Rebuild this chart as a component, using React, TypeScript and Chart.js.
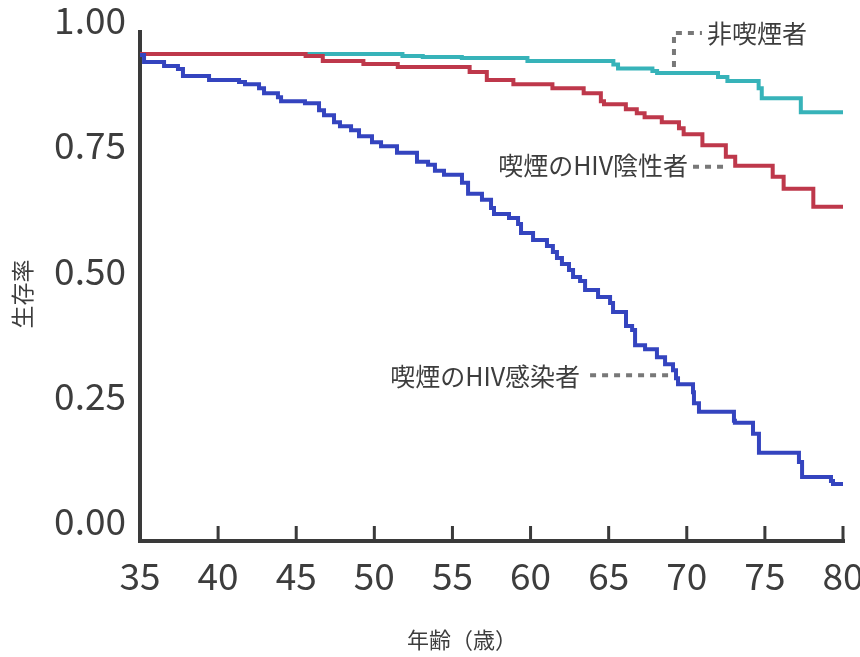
import React, { useEffect, useRef } from "react";
import { Chart, registerables } from "chart.js";

Chart.register(...registerables);

// ---- data ----
const ageTicks = [35, 40, 45, 50, 55, 60, 65, 70, 75, 80];
const survivalTicks = [0, 0.25, 0.5, 0.75, 1.0];

const nonSmokerAges = [35, 51.8, 53.1, 55.6, 59.8, 65.3, 65.6, 67.8, 68.1, 72.0, 72.6, 74.6, 74.8, 77.3, 80];
const nonSmokerSurvival = [0.932, 0.928, 0.926, 0.924, 0.918, 0.911, 0.903, 0.898, 0.894, 0.886, 0.878, 0.864, 0.844, 0.816, 0.816];

const hivNegAges = [35, 45.6, 46.7, 49.3, 51.5, 56.1, 57.2, 58.9, 61.4, 63.4, 64.5, 64.7, 66.1, 66.8, 67.3, 68.4, 69.5, 69.8, 71.0, 72.5, 73.1, 75.5, 76.2, 78.1, 80];
const hivNegSurvival = [0.932, 0.928, 0.918, 0.912, 0.906, 0.896, 0.88, 0.872, 0.864, 0.854, 0.838, 0.832, 0.822, 0.814, 0.806, 0.796, 0.784, 0.772, 0.75, 0.727, 0.709, 0.687, 0.663, 0.627, 0.627];

const hivPosAges = [35, 35.26, 36.54, 37.43, 37.75, 39.42, 41.34, 41.72, 42.62, 42.94, 43.83, 44.03, 45.56, 46.46, 46.78, 47.42, 47.8, 48.51, 49.02, 49.85, 50.43, 51.45, 52.73, 53.44, 53.88, 54.46, 55.61, 56.0, 56.89, 57.47, 57.66, 58.62, 59.2, 59.39, 60.16, 61.05, 61.43, 61.69, 62.01, 62.46, 62.72, 63.17, 63.49, 64.32, 65.09, 65.28, 66.11, 66.5, 66.69, 67.33, 68.09, 68.61, 69.12, 69.31, 69.44, 70.4, 70.46, 70.78, 73.02, 73.08, 74.24, 74.62, 77.18, 77.38, 79.23, 79.36, 80];
const hivPosSurvival = [0.93, 0.916, 0.908, 0.902, 0.888, 0.88, 0.876, 0.872, 0.864, 0.854, 0.846, 0.838, 0.834, 0.82, 0.81, 0.796, 0.788, 0.78, 0.768, 0.756, 0.748, 0.735, 0.717, 0.711, 0.699, 0.691, 0.675, 0.653, 0.641, 0.625, 0.613, 0.605, 0.593, 0.575, 0.561, 0.549, 0.537, 0.525, 0.513, 0.501, 0.487, 0.479, 0.461, 0.447, 0.435, 0.417, 0.389, 0.381, 0.351, 0.343, 0.327, 0.313, 0.301, 0.285, 0.273, 0.257, 0.235, 0.218, 0.2, 0.196, 0.174, 0.136, 0.118, 0.088, 0.08, 0.074, 0.074];

const seriesNames = ["喫煙のHIV感染者", "喫煙のHIV陰性者", "非喫煙者"];
const xTitle = "年齢（歳）";
const yTitle = "生存率";

const FONT = "'Noto Sans CJK JP', 'Noto Sans', sans-serif";
const TEXT = "#3d3d3d";
const AXIS = "#3a3a3a";
const DOT = "#787878";
const BLUE = "#3444bf";
const RED = "#be384b";
const TEAL = "#37b3b9";

export default function App() {
  const ref = useRef<HTMLCanvasElement>(null);

  useEffect(() => {
    const canvas = ref.current;
    if (!canvas) return;
    const toPts = (xs: number[], ys: number[]) => xs.map((x, i) => ({ x, y: ys[i] }));

    const decor = {
      id: "decor",
      beforeDatasetsDraw(chart: any) {
        const { ctx, chartArea: a, scales } = chart;
        const x = scales.x;
        ctx.save();
        ctx.strokeStyle = AXIS;
        ctx.lineWidth = 4;
        ctx.lineCap = "butt";
        ctx.beginPath();
        ctx.moveTo(a.left, a.top + 10);
        ctx.lineTo(a.left, a.bottom);
        ctx.moveTo(a.left - 2, a.bottom);
        ctx.lineTo(a.right + 2, a.bottom);
        ctx.stroke();
        ctx.lineWidth = 3;
        ctx.beginPath();
        ageTicks.forEach((t) => {
          if (t === ageTicks[0]) return;
          const px = x.getPixelForValue(t);
          ctx.moveTo(px, a.bottom);
          ctx.lineTo(px, a.bottom - 15);
        });
        ctx.stroke();
        ctx.restore();
      },
      afterDraw(chart: any) {
        const { ctx, scales } = chart;
        const x = scales.x;
        const y = scales.y;
        const X = (v: number) => x.getPixelForValue(v);
        const Y = (v: number) => y.getPixelForValue(v);
        ctx.save();
        // dotted connectors
        ctx.strokeStyle = DOT;
        ctx.lineWidth = 4;
        ctx.setLineDash([6, 6]);
        ctx.beginPath();
        ctx.moveTo(X(69.18), Y(0.906));
        ctx.lineTo(X(69.18), Y(0.974));
        ctx.lineTo(X(70.97), Y(0.974));
        ctx.stroke();
        ctx.beginPath();
        ctx.moveTo(X(70.4), Y(0.707));
        ctx.lineTo(X(72.4), Y(0.707));
        ctx.stroke();
        ctx.beginPath();
        ctx.moveTo(X(63.81), Y(0.291));
        ctx.lineTo(X(68.9), Y(0.291));
        ctx.stroke();
        ctx.setLineDash([]);
        // labels
        ctx.fillStyle = TEXT;
        ctx.font = `25px ${FONT}`;
        ctx.textBaseline = "middle";
        ctx.textAlign = "left";
        ctx.fillText(seriesNames[2], X(71.3), Y(0.974));
        ctx.textAlign = "right";
        ctx.fillText(seriesNames[1], X(70.08), Y(0.709));
        ctx.fillText(seriesNames[0], X(63.17), Y(0.289));
        // axis titles
        ctx.font = `22px ${FONT}`;
        ctx.textAlign = "center";
        ctx.fillText(xTitle, 462, 640);
        ctx.font = `23px ${FONT}`;
        ctx.translate(22, 294);
        ctx.rotate(-Math.PI / 2);
        ctx.fillText(yTitle, 0, 0);
        ctx.restore();
      },
    };

    const chart = new Chart(canvas, {
      type: "line",
      data: {
        datasets: [
          { label: seriesNames[0], data: toPts(hivPosAges, hivPosSurvival), borderColor: BLUE },
          { label: seriesNames[1], data: toPts(hivNegAges, hivNegSurvival), borderColor: RED },
          { label: seriesNames[2], data: toPts(nonSmokerAges, nonSmokerSurvival), borderColor: TEAL },
        ].map((d) => ({
          ...d,
          stepped: true,
          borderWidth: 4,
          pointRadius: 0,
          fill: false,
          borderJoinStyle: "miter" as const,
          clip: false as any,
        })),
      },
      options: {
        animation: false,
        responsive: true,
        maintainAspectRatio: false,
        devicePixelRatio: 1,
        layout: { padding: { left: 0, right: 17, top: 20, bottom: 0 } },
        plugins: { legend: { display: false }, tooltip: { enabled: false } },
        scales: {
          x: {
            type: "linear",
            min: 35,
            max: 80,
            grid: { display: false, drawTicks: false },
            border: { display: false },
            afterBuildTicks: (s: any) => {
              s.ticks = ageTicks.map((v) => ({ value: v }));
            },
            afterFit: (s: any) => {
              s.height = 116;
              s.paddingLeft = 0;
              s.paddingRight = 0;
            },
            ticks: {
              autoSkip: false,
              maxRotation: 0,
              padding: 13,
              color: TEXT,
              font: { family: FONT, size: 37 },
              callback: (v: any) => String(v),
            },
          },
          y: {
            type: "linear",
            min: -20 / 501,
            max: 1.0,
            grid: { display: false, drawTicks: false },
            border: { display: false },
            afterBuildTicks: (s: any) => {
              s.ticks = survivalTicks.map((v) => ({ value: v }));
            },
            afterFit: (s: any) => {
              s.width = 140;
              s.paddingTop = 0;
              s.paddingBottom = 0;
            },
            ticks: {
              padding: 14,
              color: TEXT,
              font: { family: FONT, size: 37 },
              callback: (v: any) => Number(v).toFixed(2),
            },
          },
        },
      },
      plugins: [decor],
    });
    return () => chart.destroy();
  }, []);

  return (
    <div style={{ position: "absolute", left: 0, top: 0, width: 860, height: 657, background: "#fff" }}>
      <canvas ref={ref} />
    </div>
  );
}
